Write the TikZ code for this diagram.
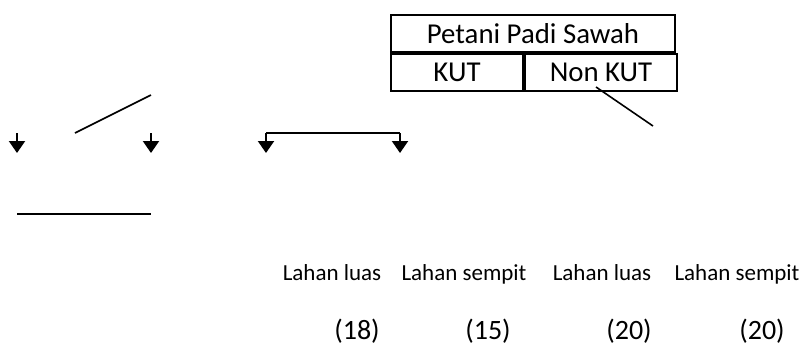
\documentclass[tikz,border=0pt]{standalone}
\usepackage{fontspec}
\setmainfont{Carlito}
\usetikzlibrary{arrows.meta,positioning}
\begin{document}
\begin{tikzpicture}[x=0.5pt,y=-0.5pt,
  cell/.style={draw,line width=1pt,inner sep=0,minimum height=18.5pt,font=\fontsize{14.4}{16}\selectfont},
  arr/.style={line width=1pt,-{Triangle[length=6pt,width=8pt]}},
  lahan/.style={anchor=base,inner sep=0,font=\fontsize{11.5}{14}\selectfont},
  jumlah/.style={anchor=base,inner sep=0,font=\fontsize{14}{16}\selectfont}]
\useasboundingbox (0,0) rectangle (808,345);
\node[cell,minimum width=142pt] (petani) at (533,33.5) {Petani Padi Sawah};
\node[cell,minimum width=66pt,anchor=north west] (kut) at (petani.south west) {KUT};
\node[cell,minimum width=76pt,anchor=west] (nonkut) at (kut.east) {Non KUT};
% garis-garis lepas
\coordinate (n1) at (596,87);
\coordinate (n2) at (653,126);
\draw[line width=0.8pt] (n1) -- (n2);
\coordinate (k1) at (75,133);
\coordinate (k2) at (151,95);
\draw[line width=0.8pt] (k1) -- (k2);
\coordinate (b1) at (17,214);
\coordinate (b2) at (151,214);
\draw[line width=1pt] (b1) -- (b2);
% panah
\foreach \xpos [count=\i] in {17,151,266,400}
  { \coordinate (t\i) at (\xpos,133);
    \coordinate (a\i) at (\xpos,153);
    \draw[arr] (t\i) -- (a\i);}
\draw[line width=1pt] (t3) -- (t4);
% keterangan
\foreach \txt/\pos [count=\i] in {Lahan luas/332,Lahan sempit/464,Lahan luas/602,Lahan sempit/737}
  {  \node [lahan] (lahan\i) at (\pos,280) {\txt};}
\foreach \jml/\pos [count=\i] in {18/357,15/488,20/629,20/762}
  {  \node [jumlah] (jml\i) at (\pos,339) {(\jml)};}
\end{tikzpicture}
\end{document}
